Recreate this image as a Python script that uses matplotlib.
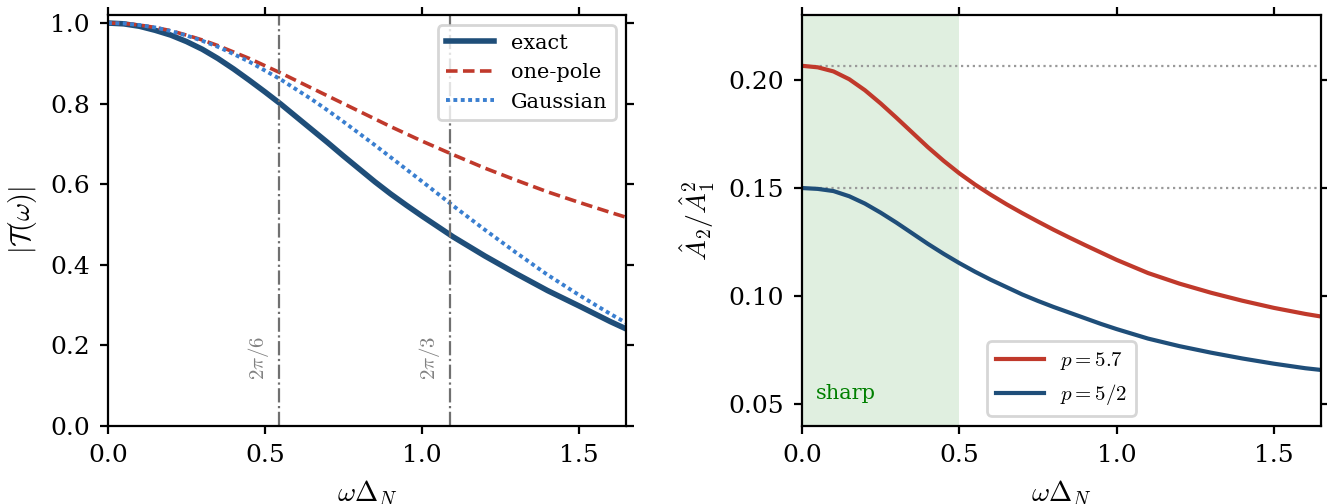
import matplotlib
matplotlib.use('Agg')
import matplotlib.pyplot as plt

plt.rcParams['font.family'] = 'DejaVu Serif'
plt.rcParams['mathtext.fontset'] = 'cm'
plt.rcParams['font.size'] = 9

# data
w = [0.0, 0.05, 0.1, 0.15, 0.2, 0.25, 0.3, 0.35, 0.4, 0.45, 0.5, 0.55, 0.6, 0.65,
     0.7, 0.75, 0.8, 0.85, 0.9, 0.95, 1.0, 1.1, 1.2, 1.3, 1.4, 1.5, 1.6, 1.65]
exact = [1.0, 0.998, 0.992, 0.982, 0.970, 0.954, 0.935, 0.912, 0.886, 0.858, 0.829,
         0.799, 0.767, 0.735, 0.703, 0.670, 0.638, 0.606, 0.576, 0.548, 0.521, 0.469,
         0.422, 0.378, 0.336, 0.298, 0.259, 0.241]
onepole = [1.0, 0.999, 0.995, 0.989, 0.981, 0.970, 0.958, 0.944, 0.928, 0.912, 0.894,
           0.876, 0.857, 0.838, 0.819, 0.800, 0.781, 0.762, 0.743, 0.725, 0.707, 0.673,
           0.640, 0.610, 0.581, 0.555, 0.530, 0.518]
gauss = [1.0, 0.999, 0.995, 0.989, 0.980, 0.969, 0.956, 0.941, 0.923, 0.904, 0.882,
         0.860, 0.835, 0.810, 0.783, 0.755, 0.726, 0.697, 0.667, 0.637, 0.607, 0.546,
         0.487, 0.430, 0.375, 0.325, 0.278, 0.256]
vlines = [0.545, 1.09]
vlabels = [r'$2\pi/6$', r'$2\pi/3$']

ratio_57 = [0.2065, 0.2058, 0.2039, 0.2003, 0.1952, 0.1891, 0.1825, 0.1757, 0.1689,
            0.1626, 0.1568, 0.1516, 0.1469, 0.1425, 0.1384, 0.1345, 0.1307, 0.1271,
            0.1236, 0.1202, 0.1168, 0.1107, 0.1058, 0.1016, 0.0979, 0.0946, 0.0918,
            0.0906]
ratio_52 = [0.1500, 0.1496, 0.1486, 0.1462, 0.1428, 0.1386, 0.1340, 0.1291, 0.1242,
            0.1196, 0.1153, 0.1113, 0.1076, 0.1042, 0.1008, 0.0978, 0.0950, 0.0924,
            0.0898, 0.0872, 0.0848, 0.0804, 0.0769, 0.0739, 0.0712, 0.0688, 0.0667,
            0.0659]
hlines = [0.2065, 0.150]

c_dark = '#1f4e79'
c_red = '#c0392b'
c_blue = '#3a7fd0'

fig = plt.figure(figsize=(6.635, 2.52), dpi=200)
ax1 = fig.add_axes([0.0814, 0.1548, 0.3904, 0.8155])
ax2 = fig.add_axes([0.6044, 0.1548, 0.3911, 0.8155])

# left panel
ax1.plot(w, exact, color=c_dark, lw=2.0, label='exact')
ax1.plot(w, onepole, color=c_red, lw=1.3, ls=(0, (3.2, 1.5)), label='one-pole')
ax1.plot(w, gauss, color=c_blue, lw=1.4, ls=(0, (1, 0.9)), label='Gaussian')
for xv, lab in zip(vlines, vlabels):
    ax1.axvline(xv, color='#707070', lw=0.8, ls='-.')
    ax1.text(xv - 0.025, 0.17, lab, rotation=90, color='#808080', fontsize=7.5,
             ha='right', va='center')
ax1.set_xlim(0, 1.65)
ax1.set_ylim(0, 1.02)
ax1.set_yticks([0.0, 0.2, 0.4, 0.6, 0.8, 1.0])
ax1.set_xticks([0.0, 0.5, 1.0, 1.5])
ax1.set_xlabel(r'$\omega\Delta_N$', fontsize=10)
ax1.set_ylabel(r'$|\mathcal{T}(\omega)|$', fontsize=10)
ax1.legend(loc='upper right', fontsize=7.5, handlelength=2.3)

# right panel
ax2.axvspan(0, 0.5, color='green', alpha=0.12, lw=0)
for yv in hlines:
    ax2.axhline(yv, color='#999999', lw=0.8, ls=':')
ax2.plot(w, ratio_57, color=c_red, lw=1.5, label=r'$p = 5.7$')
ax2.plot(w, ratio_52, color=c_dark, lw=1.5, label=r'$p = 5/2$')
ax2.text(0.045, 0.0552, 'sharp', color='green', fontsize=7.5, va='center')
ax2.set_xlim(0, 1.65)
ax2.set_ylim(0.04, 0.23)
ax2.set_yticks([0.05, 0.10, 0.15, 0.20])
ax2.set_xticks([0.0, 0.5, 1.0, 1.5])
ax2.set_xlabel(r'$\omega\Delta_N$', fontsize=10)
ax2.set_ylabel(r'$\hat{A}_2/\hat{A}_1^2$', fontsize=10)
ax2.legend(loc='lower center', fontsize=7.5, handlelength=2.3)

for ax in (ax1, ax2):
    ax.tick_params(direction='out', top=True, right=True, labelsize=9, length=3)

plt.savefig('out.png')
